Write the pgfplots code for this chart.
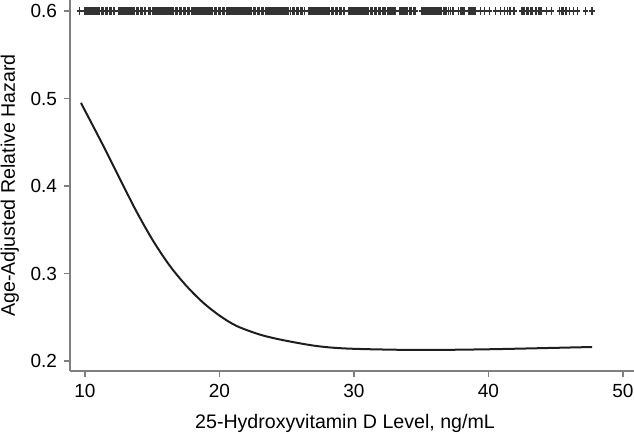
\documentclass[border=0pt]{standalone}
\usepackage{fontspec}
\setmainfont{Liberation Sans}
\usepackage{pgfplots}
\pgfplotsset{compat=1.18}
\definecolor{axgray}{HTML}{7F7F7F}
\definecolor{curve}{HTML}{1E1E1E}
\definecolor{rug}{HTML}{333333}
\begin{document}
\begin{tikzpicture}[font=\fontsize{9.5}{11}\selectfont]
\path[use as bounding box] (-35pt,-31.5pt) rectangle (282pt,185.5pt);
\begin{axis}[
  at={(0,0)}, anchor=south west, scale only axis,
  width=282pt, height=185.5pt,
  xmin=8.885, xmax=50.82, ymin=0.18857, ymax=0.6126,
  axis lines*=left,
  axis line style={draw=axgray, line width=0.6pt},
  tick style={draw=axgray, line width=0.6pt},
  major tick length=3pt,
  tick align=outside,
  xtick={10,20,30,40,50},
  ytick={0.2,0.3,0.4,0.5,0.6},
  /pgf/number format/assume math mode=true,
  yticklabel style={/pgf/number format/.cd, fixed, precision=1, fixed zerofill},
  tick label style={font=\fontsize{9.5}{11}\selectfont},
  xlabel={25-Hydroxyvitamin D Level, ng/mL},
  ylabel={Age-Adjusted Relative Hazard},
  every axis x label/.style={at={(axis description cs:0.4876,0)}, anchor=base, yshift=-29pt, font=\fontsize{9.8}{11}\selectfont},
  every axis y label/.style={at={(axis description cs:0,0.5)}, rotate=90, anchor=base, yshift=27.5pt, font=\fontsize{9.8}{11}\selectfont},
  clip=false,
]
\addplot[curve, line width=1pt, smooth] coordinates {
  (9.7,0.495) (11.36,0.446) (12.6,0.408) (13.84,0.3705) (15.08,0.337)
  (16.32,0.3085) (17.56,0.2855) (18.8,0.2665) (20.04,0.2515) (21.28,0.2400)
  (23.0,0.2302) (24.74,0.2238) (27.23,0.2171) (29.7,0.2141)
  (34.66,0.2126) (39.6,0.2133) (44.57,0.2149) (47.7,0.216)
};
\addplot[only marks, mark=+, mark size=1.3pt, rug, mark options={line width=0.6pt, yscale=1.5}]
 table[row sep=\\, y expr=0.6]{
 x\\ 9.6\\
 10.0\\ 10.1\\ 10.2\\ 10.3\\ 10.4\\ 10.5\\ 10.6\\ 10.7\\ 10.8\\ 10.9\\
 11.0\\ 11.1\\ 11.2\\ 11.3\\ 11.4\\ 11.5\\ 11.6\\ 11.7\\ 11.8\\ 11.9\\ 12.0\\ 12.1\\ 12.2\\
 12.5\\ 12.6\\ 12.7\\ 12.8\\ 12.9\\ 13.0\\ 13.1\\ 13.2\\ 13.3\\ 13.4\\ 13.5\\ 13.6\\ 13.7\\ 13.8\\ 13.9\\ 14.0\\ 14.1\\ 14.2\\ 14.3\\ 14.4\\ 14.5\\
 14.7\\ 14.8\\ 14.9\\ 15.0\\ 15.1\\ 15.2\\ 15.3\\ 15.4\\ 15.5\\ 15.6\\ 15.7\\ 15.8\\ 15.9\\
 16.0\\ 16.1\\ 16.2\\ 16.3\\ 16.4\\ 16.5\\ 16.6\\ 16.7\\ 16.8\\ 16.9\\
 17.0\\ 17.1\\ 17.2\\ 17.3\\ 17.4\\ 17.5\\ 17.6\\ 17.7\\ 17.8\\ 17.9\\
 18.0\\ 18.1\\ 18.2\\ 18.3\\ 18.4\\ 18.5\\ 18.6\\ 18.7\\ 18.8\\ 18.9\\
 19.0\\ 19.1\\ 19.2\\ 19.3\\ 19.4\\ 19.5\\ 19.6\\ 19.7\\ 19.8\\ 19.9\\
 20.0\\ 20.1\\ 20.2\\ 20.3\\ 20.4\\ 20.5\\ 20.6\\ 20.7\\ 20.8\\ 20.9\\
 21.0\\ 21.1\\ 21.2\\ 21.3\\ 21.4\\ 21.5\\ 21.6\\ 21.7\\ 21.8\\ 21.9\\
 22.0\\ 22.1\\ 22.2\\ 22.3\\ 22.4\\ 22.5\\ 22.6\\ 22.7\\ 22.8\\ 22.9\\
 23.0\\ 23.1\\ 23.2\\ 23.3\\ 23.4\\ 23.5\\ 23.6\\ 23.7\\ 23.8\\ 23.9\\
 24.0\\ 24.1\\ 24.2\\ 24.3\\ 24.4\\ 24.5\\ 24.6\\ 24.7\\ 24.8\\ 24.9\\ 25.0\\ 25.1\\
 25.3\\ 25.4\\ 25.5\\ 25.6\\ 25.7\\ 25.8\\ 25.9\\ 26.0\\ 26.1\\ 26.2\\ 26.3\\
 26.6\\ 26.7\\ 26.8\\ 26.9\\ 27.0\\ 27.1\\ 27.2\\ 27.3\\ 27.4\\ 27.5\\ 27.6\\ 27.7\\ 27.8\\ 27.9\\
 28.0\\ 28.1\\ 28.2\\ 28.3\\ 28.4\\ 28.5\\ 28.6\\ 28.7\\ 28.8\\ 28.9\\ 29.0\\ 29.1\\ 29.2\\ 29.3\\
 29.6\\ 29.7\\ 29.8\\ 29.9\\ 30.0\\ 30.1\\ 30.2\\ 30.3\\ 30.4\\ 30.5\\ 30.6\\ 30.7\\ 30.8\\ 30.9\\
 31.0\\ 31.1\\ 31.2\\ 31.3\\ 31.4\\ 31.5\\ 31.6\\ 31.7\\ 31.8\\ 31.9\\ 32.0\\ 32.1\\ 32.2\\ 32.3\\
 32.5\\ 32.6\\ 32.7\\ 32.8\\ 32.9\\ 33.0\\ 33.1\\
 33.4\\ 33.5\\ 33.6\\ 33.7\\ 33.8\\ 33.9\\ 34.0\\ 34.1\\ 34.2\\ 34.3\\ 34.4\\ 34.5\\ 34.6\\
 35.0\\ 35.1\\ 35.2\\ 35.3\\ 35.4\\ 35.5\\ 35.6\\ 35.7\\ 35.8\\ 35.9\\ 36.0\\ 36.1\\ 36.2\\ 36.3\\ 36.4\\ 36.5\\
 36.7\\ 36.8\\ 36.9\\ 37.0\\
 37.2\\ 37.3\\ 37.4\\
 37.8\\ 37.9\\ 38.0\\ 38.1\\ 38.2\\
 38.5\\ 38.6\\ 38.7\\ 38.8\\ 38.9\\ 39.0\\
 39.4\\ 39.7\\ 40.1\\ 40.5\\ 40.9\\ 41.2\\ 41.4\\ 41.6\\ 41.9\\
 42.5\\ 42.6\\ 42.7\\ 42.8\\ 42.9\\ 43.0\\ 43.1\\ 43.2\\ 43.3\\
 43.5\\ 43.6\\ 43.7\\ 43.8\\ 43.9\\
 44.3\\ 44.7\\
 45.3\\ 45.4\\ 45.5\\ 45.6\\ 45.7\\ 45.8\\
 46.0\\ 46.3\\ 46.6\\
 47.2\\ 47.7\\
 };
\end{axis}
\end{tikzpicture}
\end{document}
